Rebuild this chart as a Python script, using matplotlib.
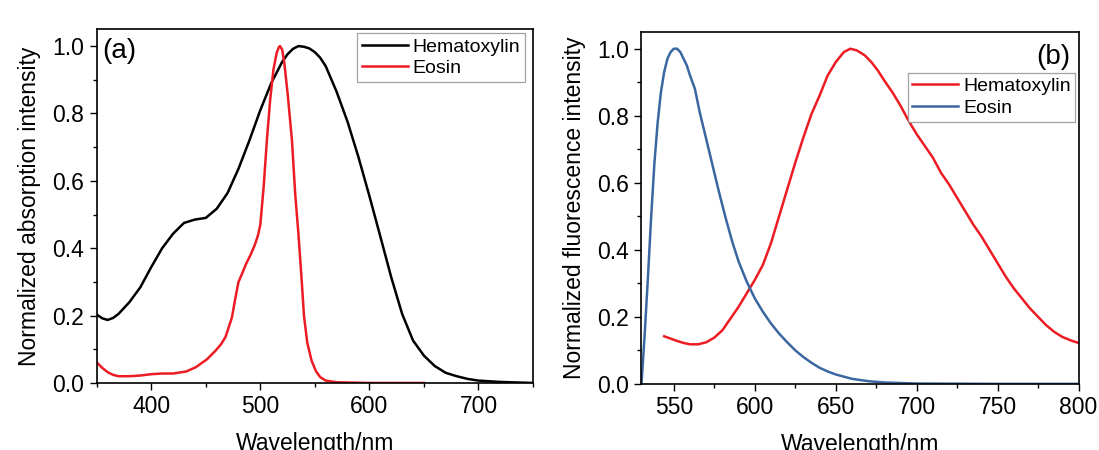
import matplotlib
matplotlib.use("Agg")
import matplotlib.pyplot as plt
from matplotlib.ticker import MultipleLocator, AutoMinorLocator

plt.rcParams["font.family"] = ["Liberation Sans", "DejaVu Sans"]

# (a) absorption spectra
abs_hema_wl = [350, 355, 360, 365, 370, 380, 390, 400, 410, 420, 430, 440, 450,
               460, 470, 480, 490, 500, 510, 520, 525, 530, 535, 540, 545, 550,
               555, 560, 570, 580, 590, 600, 610, 620, 630, 640, 650, 660, 670,
               680, 690, 700, 720, 750]
abs_hema = [0.203, 0.192, 0.187, 0.193, 0.205, 0.24, 0.284, 0.344, 0.40, 0.443,
            0.475, 0.485, 0.49, 0.517, 0.564, 0.636, 0.72, 0.81, 0.89, 0.953,
            0.976, 0.992, 1.0, 0.998, 0.993, 0.982, 0.965, 0.94, 0.864, 0.775,
            0.67, 0.555, 0.435, 0.314, 0.205, 0.126, 0.081, 0.05, 0.03, 0.02,
            0.012, 0.007, 0.003, 0.0]

abs_eosin_wl = [350, 355, 360, 365, 370, 380, 390, 400, 410, 420, 432, 441, 451,
                459, 464, 468, 471, 474, 477, 480, 484, 487, 491, 495, 498, 500,
                503, 506, 509, 512, 515, 517, 518, 520, 522, 525, 529, 532, 535,
                538, 540, 543, 547, 551, 555, 560, 570, 600, 650]
abs_eosin = [0.061, 0.045, 0.032, 0.024, 0.02, 0.02, 0.022, 0.026, 0.028, 0.028,
             0.034, 0.047, 0.07, 0.096, 0.115, 0.136, 0.165, 0.195, 0.25, 0.30,
             0.33, 0.354, 0.38, 0.41, 0.44, 0.47, 0.58, 0.72, 0.84, 0.93, 0.98,
             0.997, 1.0, 0.99, 0.95, 0.86, 0.72, 0.56, 0.44, 0.30, 0.20, 0.12,
             0.066, 0.035, 0.017, 0.007, 0.002, 0.0, 0.0]

# (b) fluorescence spectra
fl_hema_wl = [544, 548, 552, 556, 560, 565, 570, 575, 580, 585, 590, 595, 600,
              605, 610, 615, 620, 625, 630, 635, 640, 645, 650, 655, 659, 663,
              668, 672, 676, 680, 685, 690, 695, 700, 705, 710, 715, 720, 725,
              730, 735, 740, 745, 750, 755, 760, 765, 770, 775, 780, 785, 790,
              795, 800]
fl_hema = [0.142, 0.135, 0.128, 0.122, 0.118, 0.118, 0.124, 0.138, 0.16, 0.195,
           0.23, 0.27, 0.31, 0.355, 0.42, 0.50, 0.58, 0.66, 0.735, 0.805, 0.86,
           0.92, 0.96, 0.99, 1.0, 0.995, 0.98, 0.96, 0.935, 0.905, 0.87, 0.83,
           0.785, 0.745, 0.71, 0.675, 0.63, 0.595, 0.555, 0.515, 0.475, 0.44,
           0.40, 0.36, 0.32, 0.285, 0.255, 0.225, 0.20, 0.175, 0.155, 0.14, 0.13,
           0.122]

fl_eosin_wl = [530, 532, 534, 536, 538, 540, 542, 544, 546, 548, 550, 552, 554,
               556, 558, 560, 563, 566, 570, 574, 578, 582, 586, 590, 595, 600,
               605, 610, 615, 620, 625, 630, 635, 640, 645, 650, 660, 670, 680,
               700, 750, 800]
fl_eosin = [0.0, 0.15, 0.32, 0.50, 0.66, 0.78, 0.87, 0.93, 0.97, 0.99, 1.0, 1.0,
            0.99, 0.97, 0.95, 0.92, 0.88, 0.81, 0.73, 0.65, 0.57, 0.495, 0.425,
            0.365, 0.305, 0.255, 0.215, 0.18, 0.15, 0.124, 0.10, 0.08, 0.063,
            0.048, 0.037, 0.028, 0.015, 0.008, 0.004, 0.001, 0.0, 0.0]

RED = "#ec1c24"
BLUE = "#3b67a1"
LW = 1.8
TICK_FS = 16.5
LABEL_FS = 16.5


def style_axes(ax, xmin, xmax, xstep):
    ax.set_xlim(xmin, xmax)
    ax.set_ylim(0, 1.05)
    ax.xaxis.set_major_locator(MultipleLocator(xstep))
    ax.xaxis.set_minor_locator(AutoMinorLocator(2))
    ax.yaxis.set_major_locator(MultipleLocator(0.2))
    ax.yaxis.set_minor_locator(AutoMinorLocator(2))
    ax.yaxis.set_major_formatter(plt.FormatStrFormatter("%.1f"))
    ax.tick_params(which="both", direction="out", top=False, right=False,
                   width=1.0, labelsize=TICK_FS)
    ax.tick_params(which="major", length=5, pad=4)
    ax.tick_params(which="minor", length=3)
    for sp in ax.spines.values():
        sp.set_linewidth(1.2)
    ax.set_xlabel("Wavelength/nm", fontsize=LABEL_FS, labelpad=10)


fig = plt.figure(figsize=(10.99, 4.5), dpi=100)

ax1 = fig.add_axes([0.0880, 0.149, 0.3970, 0.786])
ax1.plot(abs_hema_wl, abs_hema, color="black", lw=LW, label="Hematoxylin")
ax1.plot(abs_eosin_wl, abs_eosin, color=RED, lw=LW, label="Eosin")
style_axes(ax1, 350, 750, 100)
ax1.set_ylabel("Normalized absorption intensity", fontsize=LABEL_FS, labelpad=8)
ax1.text(0.012, 0.975, "(a)", transform=ax1.transAxes, fontsize=20,
         ha="left", va="top")
leg1 = ax1.legend(loc="upper right", bbox_to_anchor=(0.982, 0.989),
                  borderaxespad=0, fontsize=14, frameon=True, fancybox=False,
                  handlelength=2.35, handletextpad=0.25, labelspacing=0.2,
                  borderpad=0.25)
leg1.get_frame().set_edgecolor("#8c8c8c")
leg1.get_frame().set_linewidth(0.9)

ax2 = fig.add_axes([0.5837, 0.147, 0.3977, 0.782])
ax2.plot(fl_hema_wl, fl_hema, color=RED, lw=LW, label="Hematoxylin")
ax2.plot(fl_eosin_wl, fl_eosin, color=BLUE, lw=LW, label="Eosin")
style_axes(ax2, 530, 800, 50)
ax2.set_ylabel("Normalized fluorescence intensity", fontsize=LABEL_FS, labelpad=8)
ax2.text(0.982, 0.965, "(b)", transform=ax2.transAxes, fontsize=20,
         ha="right", va="top")
leg2 = ax2.legend(loc="upper right", bbox_to_anchor=(0.993, 0.884),
                  borderaxespad=0, fontsize=14, frameon=True, fancybox=False,
                  handlelength=2.35, handletextpad=0.25, labelspacing=0.2,
                  borderpad=0.25)
leg2.get_frame().set_edgecolor("#8c8c8c")
leg2.get_frame().set_linewidth(0.9)

fig.savefig("out.png", dpi=100)
